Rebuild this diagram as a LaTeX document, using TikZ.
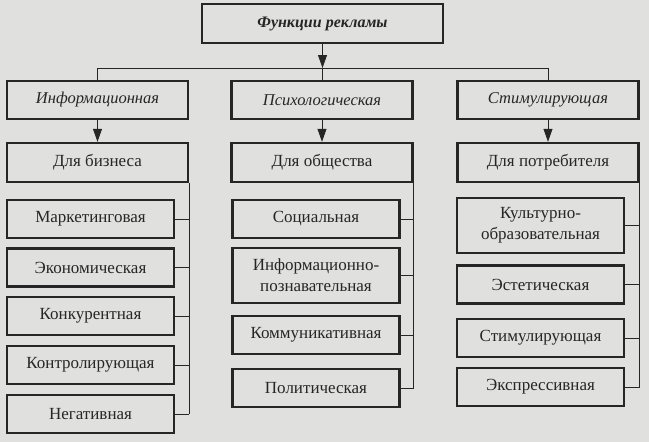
\documentclass[tikz,border=0pt]{standalone}
\usepackage{fontspec}
\setmainfont{Liberation Serif}
\usepackage{xcolor}
\usetikzlibrary{positioning,arrows.meta}
\definecolor{paper}{RGB}{224,224,222}
\definecolor{ink}{RGB}{38,38,38}
\tikzstyle{head} = [rectangle, draw=ink, line width=2.4pt, fill=none, text=ink, text centered, font=\bfseries\itshape\fontsize{16}{18}\selectfont, minimum width=241pt, minimum height=39pt, inner sep=0pt]
\tikzstyle{kind} = [rectangle, draw=ink, line width=2.4pt, fill=none, text=ink, text centered, font=\itshape\fontsize{16.5}{19}\selectfont, minimum width=181pt, minimum height=38pt, inner sep=0pt]
\tikzstyle{group} = [rectangle, draw=ink, line width=2.4pt, fill=none, text=ink, text centered, font=\fontsize{17}{20}\selectfont, minimum width=181pt, minimum height=39pt, inner sep=0pt]
\tikzstyle{item} = [rectangle, draw=ink, line width=2.4pt, fill=none, text=ink, align=center, font=\fontsize{17}{21}\selectfont, minimum width=167pt, inner sep=0pt]
\tikzstyle{link} = [draw=ink, line width=0.8pt]
\tikzstyle{arr} = [link, -{Triangle[length=13pt,width=9pt]}]

\begin{document}
\begin{tikzpicture}[x=1pt,y=-1pt]
  % paper
  \fill[paper] (0,0) rectangle (649,442);
  % draw title node
  \node[head] (top) at (322.5,23.5) {Функции рекламы};
  \coordinate (bus) at (322.5,68);
  \draw[arr] (top.south) -- (bus);
  % draw kinds of functions and their groups
  \foreach \name/\x/\t/\g in {inf/97.5/Информационная/{Для бизнеса},
      psy/322/Психологическая/{Для общества},
      stim/548/Стимулирующая/{Для потребителя}} {
    \node[kind] (\name) at (\x,100) {\t};
    \node[group] (g\name) at (\x,162.5) {\g};
    \draw[arr] (\name.south) -- (g\name.north);
    \draw[link] (\name.north) -- (\name.north |- bus);
  }
  \draw[link] (inf.north |- bus) -- (stim.north |- bus);
  % draw items for business
  \foreach \t/\y [count=\i] in {Маркетинговая/219, Экономическая/267.5,
      Конкурентная/316, Контролирующая/365, Негативная/414} {
    \node[item, minimum height=38pt] (l\i) at (90.5,\y) {\t};
    \draw[link] (l\i.east) -- (l\i.east -| ginf.south east);
  }
  \draw[link] (ginf.south east) -- (ginf.south east |- l5.east);
  % draw items for society
  \foreach \t/\y/\h [count=\i] in {Социальная/219/38, {Информационно-\\познавательная}/275.5/55,
      Коммуникативная/335/38, Политическая/388/38} {
    \node[item, minimum height=\h pt] (m\i) at (316,\y) {\t};
    \draw[link] (m\i.east) -- (m\i.east -| gpsy.south east);
  }
  \draw[link] (gpsy.south east) -- (gpsy.south east |- m4.east);
  % draw items for consumer
  \foreach \t/\y/\h [count=\i] in {{Культурно-\\образовательная}/225.5/55, Эстетическая/284.5/38,
      Стимулирующая/338/38, Экспрессивная/387/38} {
    \node[item, minimum height=\h pt] (r\i) at (540.5,\y) {\t};
    \draw[link] (r\i.east) -- (r\i.east -| gstim.south east);
  }
  \draw[link] (gstim.south east) -- (gstim.south east |- r4.east);
\end{tikzpicture}
\end{document}
